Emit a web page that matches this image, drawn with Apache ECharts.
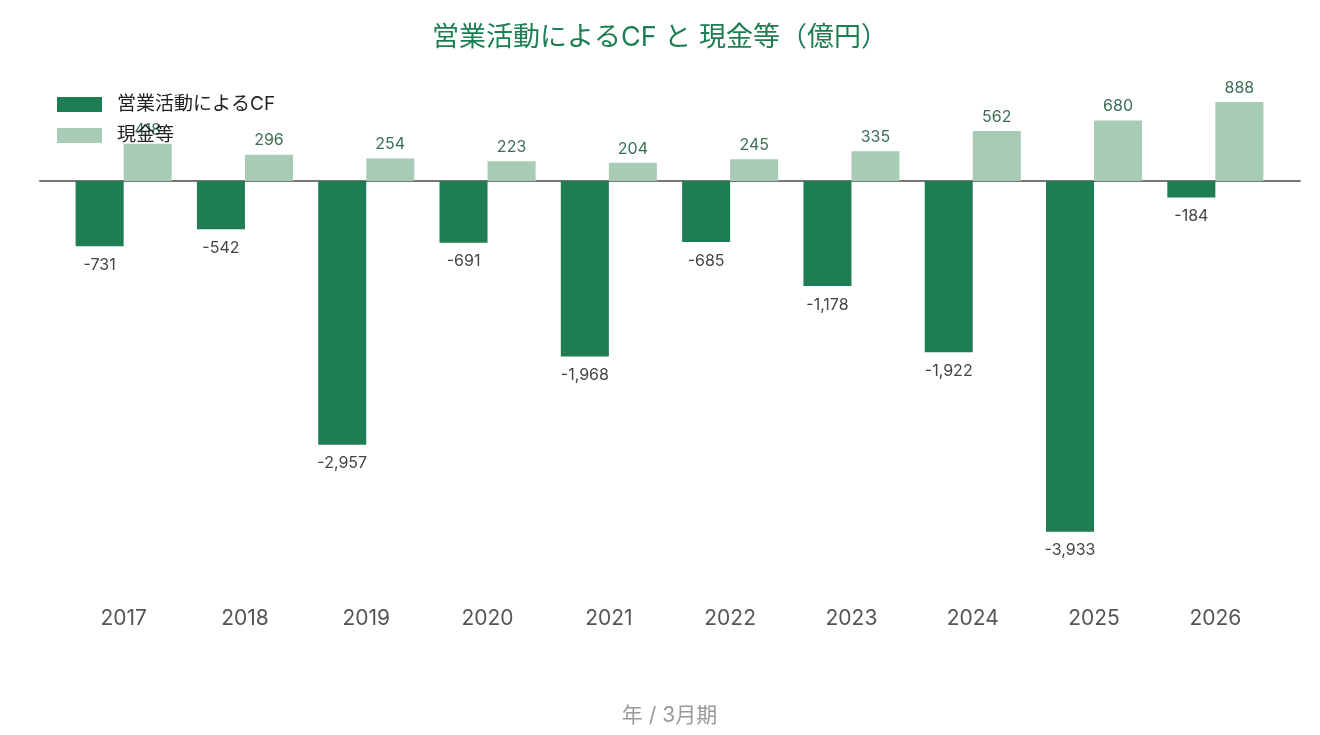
<!DOCTYPE html>
<html>
<head>
<meta charset="utf-8">
<script src="https://cdn.jsdelivr.net/npm/echarts@6/dist/echarts.min.js"></script>
<style>
  html, body { margin: 0; padding: 0; background: #fff; }
  #main { width: 1320px; height: 735px; }
</style>
</head>
<body>
<div id="main"></div>
<script>
// 年 / 3月期
var years = ['2017', '2018', '2019', '2020', '2021', '2022', '2023', '2024', '2025', '2026']
var cfList = [-731, -542, -2957, -691, -1968, -685, -1178, -1922, -3933, -184] // 営業活動によるCF
var cashList = [418, 296, 254, 223, 204, 245, 335, 562, 680, 888] // 現金等

var font = "Inter, 'Noto Sans CJK JP', sans-serif"
var fmt = function (p) { return p.value.toLocaleString('en-US') }

var chart = echarts.init(document.getElementById('main'))
chart.setOption({
  animation: false,
  textStyle: { fontFamily: font },
  title: {
    text: '営業活動によるCF と 現金等（億円）',
    left: 'center',
    top: 19,
    textStyle: { color: '#1e7d53', fontSize: 27, fontWeight: 'normal', fontFamily: font }
  },
  legend: {
    orient: 'vertical',
    left: 52,
    top: 90,
    itemWidth: 45,
    itemHeight: 15,
    itemGap: 12,
    icon: 'rect',
    textStyle: { color: '#222', fontSize: 19, padding: [0, 0, 0, 10] },
    data: ['営業活動によるCF', '現金等']
  },
  grid: [
    { left: 63, right: 44, top: 83, bottom: 135 },
    { left: 40, right: 20, top: 83, bottom: 135 }
  ],
  xAxis: [
    {
      type: 'category',
      data: years,
      axisLine: { show: false },
      axisTick: { show: false },
      axisLabel: { color: '#555', fontSize: 21, margin: 8 },
      name: '年 / 3月期',
      nameLocation: 'middle',
      nameGap: 105,
      nameTextStyle: { color: '#999', fontSize: 21 }
    },
    {
      gridIndex: 1,
      type: 'category',
      data: [],
      axisLine: { onZero: true, lineStyle: { color: '#777', width: 2 } },
      axisTick: { show: false },
      axisLabel: { show: false }
    }
  ],
  yAxis: [
    { type: 'value', min: -4700, max: 1100, show: false, splitLine: { show: false } },
    { gridIndex: 1, type: 'value', min: -4700, max: 1100, show: false, splitLine: { show: false } }
  ],
  series: [
    {
      name: '営業活動によるCF',
      type: 'bar',
      data: cfList,
      barWidth: '39.6%',
      barGap: '0%',
      itemStyle: { color: '#1e7d53' },
      label: { show: true, position: 'bottom', distance: 11, color: '#444', fontSize: 16, formatter: fmt }
    },
    {
      name: '現金等',
      type: 'bar',
      data: cashList,
      barWidth: '39.6%',
      barGap: '0%',
      itemStyle: { color: '#a8cbb5' },
      label: { show: true, position: 'top', distance: 6, color: '#3b6e55', fontSize: 16, formatter: fmt }
    }
  ]
})
</script>
</body>
</html>
